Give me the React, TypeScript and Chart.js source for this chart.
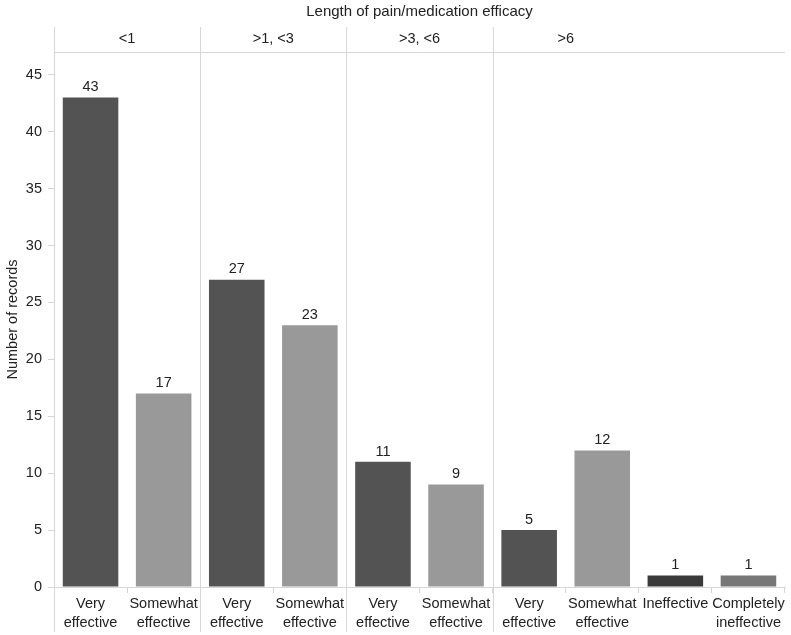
import React, { useEffect, useRef } from "react";
import { Chart, registerables } from "chart.js";

Chart.register(...registerables);

const title = "Length of pain/medication efficacy";
const panels = ["<1", ">1, <3", ">3, <6", ">6"];
const panelStarts = [0, 2, 4, 6];
const categories: (string | string[])[] = [
  ["Very", "effective"],
  ["Somewhat", "effective"],
  ["Very", "effective"],
  ["Somewhat", "effective"],
  ["Very", "effective"],
  ["Somewhat", "effective"],
  ["Very", "effective"],
  ["Somewhat", "effective"],
  ["Ineffective"],
  ["Completely", "ineffective"],
];
const values = [43, 17, 27, 23, 11, 9, 5, 12, 1, 1];
const barColors = ["#545354", "#999999", "#545354", "#999999", "#545354", "#999999", "#545354", "#999999", "#3a3a3a", "#777777"];
const yTicks = [0, 5, 10, 15, 20, 25, 30, 35, 40, 45];
const yTitle = "Number of records";

const FONT = "'Liberation Sans', Arial, Helvetica, sans-serif";
const FS = 14.5;

const facetPlugin = {
  id: "facets",
  afterDatasetsDraw(chart: any) {
    const ctx = chart.ctx;
    const x = chart.scales.x;
    const y = chart.scales.y;
    const ca = chart.chartArea;
    const lineTop = ca.top - 25;
    const lineBottom = ca.bottom + 45;
    const boundary = (i: number) => (x.getPixelForValue(i - 1) + x.getPixelForValue(i)) / 2;
    ctx.save();
    ctx.strokeStyle = "#d6d6d6";
    ctx.lineWidth = 1;
    ctx.beginPath();
    ctx.moveTo(Math.round(ca.left) + 0.5, lineTop);
    ctx.lineTo(Math.round(ca.left) + 0.5, lineBottom);
    ctx.stroke();
    ctx.beginPath();
    ctx.moveTo(ca.left, Math.round(ca.top) + 0.5);
    ctx.lineTo(ca.right, Math.round(ca.top) + 0.5);
    ctx.stroke();
    panelStarts.slice(1).forEach((s) => {
      const bx = Math.round(boundary(s)) + 0.5;
      ctx.beginPath();
      ctx.moveTo(bx, lineTop);
      ctx.lineTo(bx, lineBottom);
      ctx.stroke();
    });
    ctx.fillStyle = "#222";
    ctx.font = `15px ${FONT}`;
    ctx.textAlign = "center";
    ctx.textBaseline = "middle";
    ctx.fillText(title, (ca.left + ca.right) / 2, 12);
    ctx.font = `${FS}px ${FONT}`;
    panels.forEach((p, k) => {
      const s = panelStarts[k];
      const cx = (x.getPixelForValue(s) + x.getPixelForValue(s + 1)) / 2;
      ctx.fillText(p, cx, ca.top - 13);
    });
    ctx.textBaseline = "bottom";
    const meta = chart.getDatasetMeta(0);
    meta.data.forEach((bar: any, i: number) => {
      ctx.fillText(String(values[i]), bar.x, y.getPixelForValue(values[i]) - 3);
    });
    ctx.restore();
  },
};

export default function App() {
  const ref = useRef<HTMLCanvasElement>(null);
  useEffect(() => {
    document.body.style.margin = "0";
    const chart = new Chart(ref.current!, {
      type: "bar",
      data: {
        labels: categories,
        datasets: [
          {
            data: values,
            backgroundColor: barColors,
            barPercentage: 0.76,
            categoryPercentage: 1,
          },
        ],
      },
      options: {
        animation: false,
        responsive: false,
        layout: { padding: { top: 52, right: 6, left: 0, bottom: 0 } },
        plugins: { legend: { display: false }, tooltip: { enabled: false } },
        scales: {
          x: {
            offset: true,
            grid: { display: true, drawOnChartArea: false, offset: true, tickLength: 6, color: "#d6d6d6" },
            border: { display: true, color: "#d6d6d6" },
            ticks: { color: "#222", font: { family: FONT, size: FS, lineHeight: 1.35 }, padding: 1, maxRotation: 0, autoSkip: false },
            afterFit: (s: any) => { s.height = 48; },
          },
          y: {
            min: 0,
            max: 47,
            afterBuildTicks: (s: any) => { s.ticks = yTicks.map((v) => ({ value: v })); },
            grid: { display: true, drawOnChartArea: false, tickLength: 6, color: "#d6d6d6" },
            border: { display: false },
            ticks: { color: "#222", font: { family: FONT, size: FS }, padding: 6 },
            title: { display: true, text: yTitle, color: "#222", font: { family: FONT, size: FS }, padding: { top: 4, bottom: 0 } },
            afterFit: (s: any) => { s.width = 54; },
          },
        },
      },
      plugins: [facetPlugin],
    });
    return () => chart.destroy();
  }, []);
  return <canvas ref={ref} width={791} height={635} style={{ display: "block" }} />;
}
